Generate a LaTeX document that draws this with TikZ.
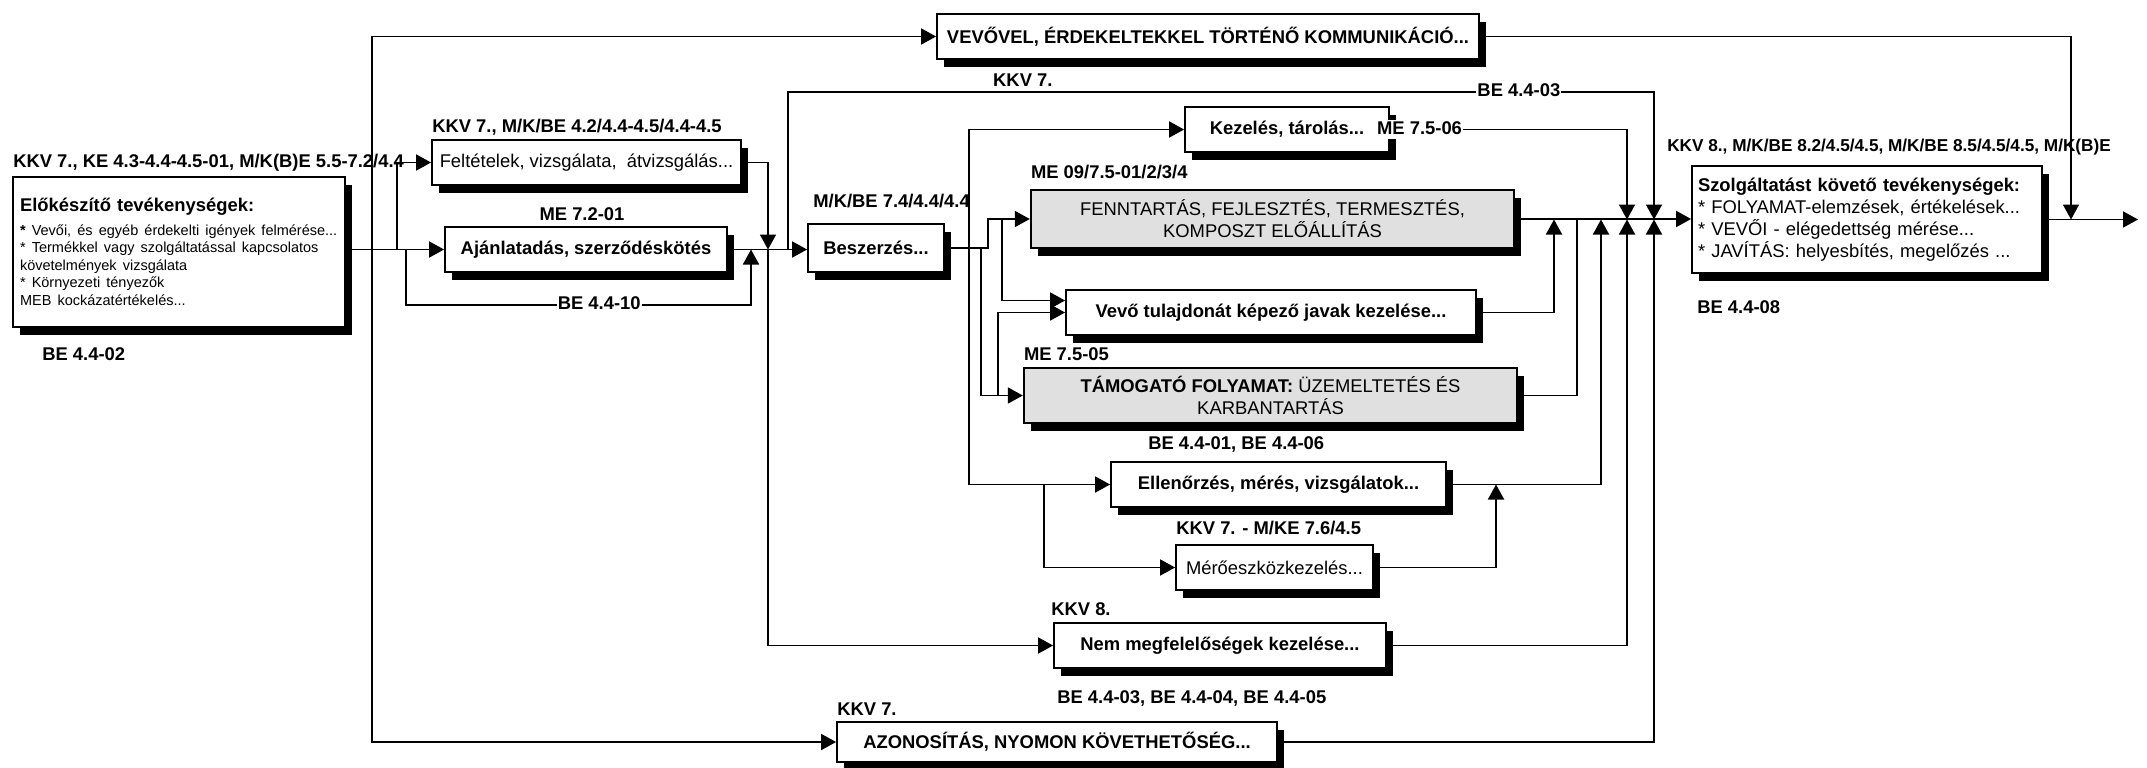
\documentclass[tikz,border=0pt]{standalone}
\usepackage{fontspec}
\setmainfont{Liberation Sans}
\usetikzlibrary{
	arrows.meta,
	positioning,
	shadows,
}
\definecolor{MyGray}{HTML}{E0E0E0}
\newcommand{\fsLbl}{\fontsize{18.4}{22}\selectfont}
\newcommand{\fsSml}{\fontsize{14.5}{17.5}\selectfont}

\begin{document}
\begin{tikzpicture}[
		x=1pt, y=-1pt,
		every node/.style={font=\fsLbl},
		box/.style = {rectangle, draw, line width=1.8pt, fill=white,
			general shadow={fill=black, shadow xshift=7pt, shadow yshift=-8pt},
			inner sep=0pt, font=\fsLbl\bfseries},
		gbox/.style = {box, fill=MyGray, line width=2.4pt, font=\fsLbl,
			align=center},
		lbl/.style = {inner sep=1pt, text height=13.5pt, text depth=4pt,
			font=\fsLbl\bfseries},
		tag/.style = {lbl, fill=white},
		arr/.style = {line width=1.8pt, -{Triangle[length=15pt, width=16pt]}},
		ln/.style = {line width=1.8pt},
	]
	\useasboundingbox (0,0) rectangle (2147,768);
	% boxes
	\node[box, minimum width=332pt, minimum height=150pt, text width=318pt,
		align=left, font=\fsLbl] (prep) at (179,252) {%
		{\bfseries Előkészítő tevékenységek:\par}\vspace{6pt}
		{\fsSml\textbf{*} Vevői, és egyéb érdekelti igények felmérése...\\
		{}* Termékkel vagy szolgáltatással kapcsolatos\\
		követelmények vizsgálata\\
		{}* Környezeti tényezők\\
		MEB kockázatértékelés...\par}};
	\node[box, minimum width=309pt, minimum height=45pt, font=\fsLbl] (felt)
		at (586.5,162.5) {Feltételek, vizsgálata,~ átvizsgálás...};
	\node[box, minimum width=282pt, minimum height=45pt] (ajanl)
		at (586,249.5) {Ajánlatadás, szerződéskötés};
	\node[box, minimum width=136pt, minimum height=48pt] (besz)
		at (876,248) {Beszerzés...};
	\node[box, minimum width=542pt, minimum height=45pt] (vevo)
		at (1208,36.5) {VEVŐVEL, ÉRDEKELTEKKEL TÖRTÉNŐ KOMMUNIKÁCIÓ...};
	\node[box, minimum width=204pt, minimum height=45pt] (kez)
		at (1287,129.5) {Kezelés, tárolás...};
	\node[gbox, minimum width=483pt, minimum height=58pt] (fennt)
		at (1272.5,219) {FENNTARTÁS, FEJLESZTÉS, TERMESZTÉS,\\KOMPOSZT ELŐÁLLÍTÁS};
	\node[box, minimum width=410pt, minimum height=45pt] (vevotul)
		at (1271,312.5) {Vevő tulajdonát képező javak kezelése...};
	\node[gbox, minimum width=493pt, minimum height=55pt] (tamog)
		at (1270.5,395.5) {\textbf{TÁMOGATÓ FOLYAMAT:} ÜZEMELTETÉS ÉS\\KARBANTARTÁS};
	\node[box, minimum width=335pt, minimum height=45pt] (ellen)
		at (1278.5,484.5) {Ellenőrzés, mérés, vizsgálatok...};
	\node[box, minimum width=197pt, minimum height=45pt, font=\fsLbl] (mero)
		at (1274.5,567.5) {Mérőeszközkezelés...};
	\node[box, minimum width=332pt, minimum height=45pt] (nem)
		at (1220,645.5) {Nem megfelelőségek kezelése...};
	\node[box, minimum width=440pt, minimum height=40pt] (azon)
		at (1057,742) {AZONOSÍTÁS, NYOMON KÖVETHETŐSÉG...};
	\node[box, minimum width=350pt, minimum height=107pt, text width=338pt,
		align=left, font=\fsLbl] (szolg) at (1867,219.5) {%
		{\bfseries Szolgáltatást követő tevékenységek:}\\
		{}* FOLYAMAT-elemzések, értékelések...\\
		{}* VEVŐI - elégedettség mérése...\\
		{}* JAVÍTÁS: helyesbítés, megelőzés ...};
	% labels
	\begin{scope}[every node/.append style={lbl}]
		\node[above=3pt of prep.north west, anchor=south west]
			{KKV 7., KE 4.3-4.4-4.5-01, M/K(B)E 5.5-7.2/4.4};
		\node[below=18pt of prep.south west, anchor=north west, xshift=29pt] {BE 4.4-02};
		\node[above=1pt of felt.north west, anchor=south west]
			{KKV 7., M/K/BE 4.2/4.4-4.5/4.4-4.5};
		\node[above=0pt of ajanl, xshift=-4pt] {ME 7.2-01};
		\node[above=10pt of besz.north west, anchor=south west, xshift=5pt]
			{M/K/BE 7.4/4.4/4.4};
		\node[anchor=west] at (992,82) {KKV 7.};
		\node[above=5pt of fennt.north west, anchor=south west] {ME 09/7.5-01/2/3/4};
		\node[above=1pt of tamog.north west, anchor=south west] {ME 7.5-05};
		\node[above=6pt of ellen.north west, anchor=south west, xshift=37pt]
			{BE 4.4-01, BE 4.4-06};
		\node[above=4pt of mero.north west, anchor=south west] {KKV 7. - M/KE 7.6/4.5};
		\node[above=1pt of nem.north west, anchor=south west, xshift=-3pt] {KKV 8.};
		\node[below=20pt of nem.south west, anchor=north west, xshift=3pt]
			{BE 4.4-03, BE 4.4-04, BE 4.4-05};
		\node[above=0pt of azon.north west, anchor=south west] {KKV 7.};
		\node[above=8pt of szolg.north west, anchor=south west, xshift=-25pt,
			font=\fontsize{17.2}{20}\selectfont\bfseries]
			{KKV 8., M/K/BE 8.2/4.5/4.5, M/K/BE 8.5/4.5/4.5, M/K(B)E};
		\node[below=25pt of szolg.south west, anchor=north west, xshift=5pt] {BE 4.4-08};
	\end{scope}
	\node[tag, anchor=west, xshift=-14pt] (me756) at (kez.east) {ME 7.5-06};
	% junctions
	\coordinate (busL) at (372,0);
	\coordinate (up1) at (397,0);
	\coordinate (dn1) at (406,0);
	\coordinate (fb) at (751,305);
	\coordinate (sp) at (768,0);
	\coordinate (top) at (788,92);
	\coordinate (b1) at (969,0);
	\coordinate (b2) at (981,0);
	\coordinate (b3) at (988,0);
	\coordinate (b4) at (998,0);
	\coordinate (b5) at (1002,0);
	\coordinate (mb) at (1044,0);
	\coordinate (mm) at (1496,0);
	\coordinate (m1) at (1554,0);
	\coordinate (m2) at (1577,0);
	\coordinate (m3) at (1601,0);
	\coordinate (m4) at (1627,0);
	\coordinate (m5) at (1654,0);
	\coordinate (vv) at (2071,0);
	\coordinate (out) at (2138,219.5);
	% connectors
	\draw[arr] (prep.east |- ajanl.west) -- (ajanl.west);
	\draw[arr] (busL |- ajanl.west) |- (vevo.west);
	\draw[arr] (busL |- ajanl.west) |- (azon.west);
	\draw[arr] (up1 |- ajanl.west) |- (felt.west);
	\draw[arr] (dn1 |- ajanl.west) |- node[tag, pos=0.78]{BE 4.4-10} (fb)
		-- (fb |- ajanl.west);
	\draw[arr] (ajanl.east) -- (ajanl.east -| besz.west);
	\draw[arr] (felt.east) -| (sp |- ajanl.east);
	\draw[arr] (sp |- ajanl.east) |- (nem.west);
	\draw[arr] (top |- ajanl.east) -- (top)
		-| node[tag, pos=0.422]{BE 4.4-03} (m5 |- szolg.west);
	\draw[arr] (besz.east) -- (b3 |- besz.east) |- (fennt.west);
	\draw[arr] (b1 |- besz.east) |- (kez.west);
	\draw[arr] (b1 |- besz.east) |- (ellen.west);
	\draw[arr] (b2 |- besz.east) |- (tamog.west);
	\draw[arr] (b5 |- fennt.west) |- ([yshift=12pt]vevotul.west);
	\draw[arr] (b4 |- tamog.west) |- (vevotul.west);
	\draw[arr] (mb |- ellen.west) |- (mero.west);
	\draw[arr] (me756.east) -| (m4 |- szolg.west);
	\draw[arr] (fennt.east) -- (fennt.east -| szolg.west);
	\draw[arr] (vevotul.east) -| (m1 |- szolg.west);
	\draw[ln] (tamog.east) -| (m2 |- szolg.west);
	\draw[arr] (ellen.east) -| (m3 |- szolg.west);
	\draw[arr] (mero.east) -| (mm |- ellen.east);
	\draw[arr] (nem.east) -| (m4 |- szolg.west);
	\draw[arr] (azon.east) -| (m5 |- szolg.west);
	\draw[arr] (vevo.east) -| (vv |- szolg.east);
	\draw[arr] (szolg.east) -- (out);
\end{tikzpicture}
\end{document}
